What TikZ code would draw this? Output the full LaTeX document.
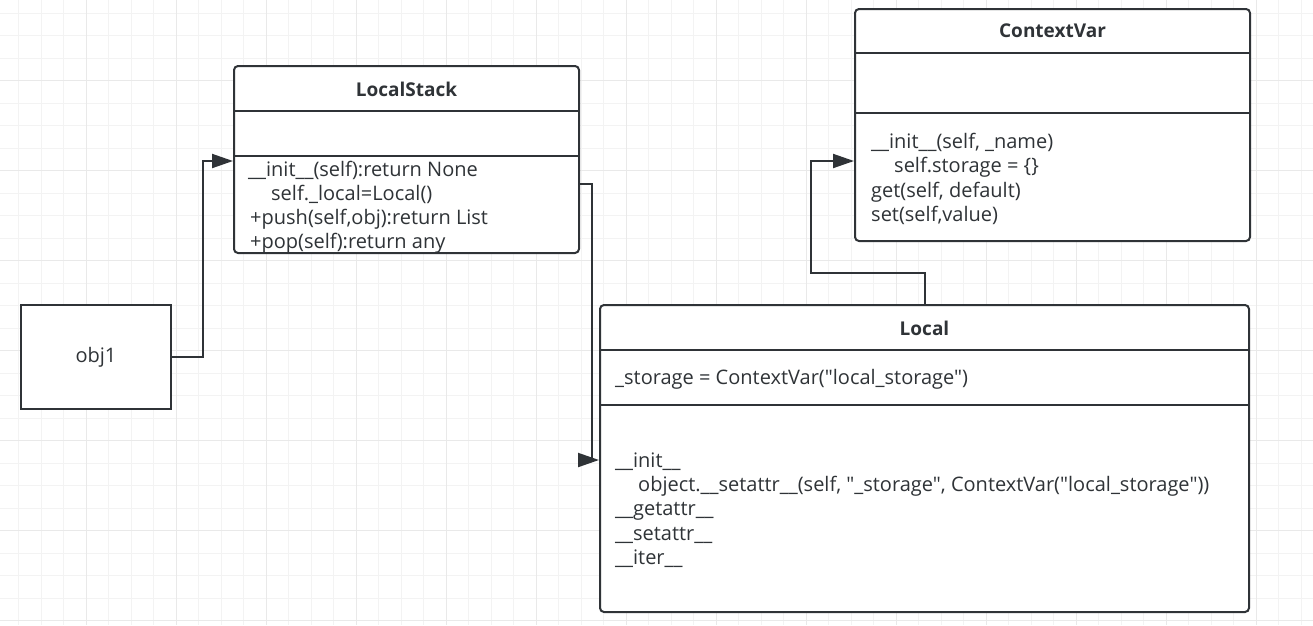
\documentclass[tikz,border=0pt]{standalone}
\usepackage{fontspec}
\setmainfont{Open Sans}[Ligatures=TeXOff]
\usepackage{xcolor}
\usepackage{tikz}
\usetikzlibrary{arrows.meta}

\definecolor{inkc}{HTML}{2F3337}
\definecolor{gridminor}{HTML}{F3F3F3}
\definecolor{gridmajor}{HTML}{E9E9E9}

\tikzset{
  classbox/.style={draw=inkc, line width=2pt, rounded corners=4pt, fill=white},
  objbox/.style={draw=inkc, line width=2.5pt, fill=white},
  classtitle/.style={text=inkc, font=\fontsize{19}{22}\bfseries\selectfont, inner sep=0pt},
  members/.style={text=inkc, font=\fontsize{20}{24.3}\selectfont, align=left, inner sep=0pt, anchor=north west},
  link/.style={draw=inkc, line width=2pt, -{Triangle[length=21pt,width=14pt]}},
}

\begin{document}
\begin{tikzpicture}[x=1pt,y=-1pt]
\useasboundingbox (0,0) rectangle (1313,625);
% grid
\foreach \k in {1,...,58} \draw[gridminor, line width=1pt] ({-4+22.5*\k},0) -- ({-4+22.5*\k},625);
\foreach \k in {1,...,28} \draw[gridminor, line width=1pt] (0,{-9.3+22.5*\k}) -- (1313,{-9.3+22.5*\k});
\foreach \k in {4,8,...,56} \draw[gridmajor, line width=1pt] ({-4+22.5*\k},0) -- ({-4+22.5*\k},625);
\foreach \k in {4,8,...,28} \draw[gridmajor, line width=1pt] (0,{-9.3+22.5*\k}) -- (1313,{-9.3+22.5*\k});

% obj1
\node[objbox, minimum width=150pt, minimum height=104pt, text=inkc, font=\fontsize{20}{24}\selectfont] (obj) at (96,357) {obj1};

% LocalStack
\node[classbox, minimum width=345pt, minimum height=187pt] (stack) at (406.5,159.5) {};
\draw[inkc, line width=2pt] (stack.west |- 0,111) -- (stack.east |- 0,111);
\draw[inkc, line width=2pt] (stack.west |- 0,156) -- (stack.east |- 0,156);
\node[classtitle] (stacktitle) at (406.5,89) {LocalStack};
\node[members] (stackops) at (248,160.5) {\_\_init\_\_(self):return None\\
\hspace*{23pt}self.\_local=Local()\\
\hspace*{2pt}+push(self,obj):return List\\
\hspace*{2pt}+pop(self):return any};

% ContextVar
\node[classbox, minimum width=395pt, minimum height=232pt] (ctx) at (1052.5,125) {};
\draw[inkc, line width=2pt] (ctx.west |- 0,53) -- (ctx.east |- 0,53);
\draw[inkc, line width=2pt] (ctx.west |- 0,113) -- (ctx.east |- 0,113);
\node[classtitle] (ctxtitle) at (1052.5,31) {ContextVar};
\node[members] (ctxops) at (871,133) {\_\_init\_\_(self, \_name)\\
\hspace*{23pt}self.storage = \{\}\\
get(self, default)\\
set(self,value)};

% Local
\node[classbox, minimum width=649pt, minimum height=307pt] (local) at (924.5,458.5) {};
\draw[inkc, line width=2pt] (local.west |- 0,350) -- (local.east |- 0,350);
\draw[inkc, line width=2pt] (local.west |- 0,405) -- (local.east |- 0,405);
\node[classtitle] (localtitle) at (924.5,328) {Local};
\node[members] (localattr) at (615,369) {\_storage = ContextVar("local\_storage")};
\node[members] (localops) at (615,452.5) {\_\_init\_\_\\
\hspace*{23pt}object.\_\_setattr\_\_(self, "\_storage", ContextVar("local\_storage"))\\
\_\_getattr\_\_\\
\_\_setattr\_\_\\
\_\_iter\_\_};

% connectors
\draw[link] (obj.east) -- ++(31,0) |- (stack.west |- 0,161);
\draw[link] (stack.east |- 0,184) -- ++(12,0) |- (local.west |- 0,460);
\draw[link] (local.north) |- (811,273) |- (ctx.west |- 0,161);
\end{tikzpicture}
\end{document}
